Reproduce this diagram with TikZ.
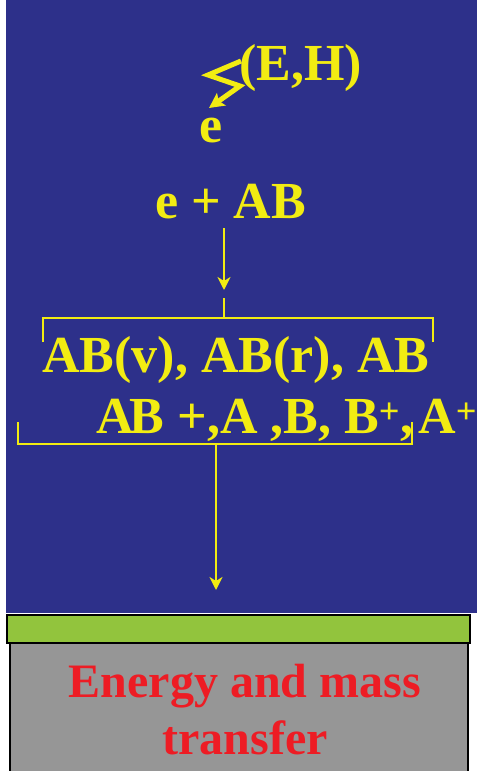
\documentclass[tikz,border=0pt]{standalone}
\usepackage{fontspec}
\setmainfont{Liberation Serif}
\usetikzlibrary{arrows.meta}
\definecolor{bg}{RGB}{45,48,138}
\definecolor{ylw}{RGB}{242,236,18}
\definecolor{grn}{RGB}{146,196,61}
\definecolor{gry}{RGB}{150,150,150}
\definecolor{rd}{RGB}{237,28,36}
\begin{document}
\begin{tikzpicture}[x=1pt,y=-1pt,
  txt/.style={font=\fontsize{52}{60}\selectfont\bfseries, text=ylw, inner sep=0pt, anchor=base west},
  conn/.style={draw=ylw, line width=2.2pt},
  arr/.style={conn, -{Stealth[length=13pt,width=13pt,inset=4pt]}},
  brk/.style={draw=ylw, line width=2pt}]
\useasboundingbox (0,0) rectangle (477,771);
% backgrounds
\fill[bg] (6,0) rectangle (477,613);
\filldraw[fill=gry, draw=black, line width=1.5pt] (10,643) rectangle (468,790);
\filldraw[fill=grn, draw=black, line width=1.5pt] (7,615) rectangle (470,643);
% texts
\node[txt] (eh) at (239,80) {(E,H)};
\node[txt] (e) at (199,142) {e};
\node[txt] (eab) at (155,218) {e + AB};
\node[txt] (l1) at (42,372) {AB(v), AB(r), AB};
\node[txt] (l2) at (96,433) {A\kern-4pt B +,A ,B, B\textsuperscript{+},};
\node[txt] (ap) at (418,433) {A\textsuperscript{+}};
\node[font=\fontsize{48}{57}\selectfont\bfseries, text=rd, align=center, inner sep=0pt] (et) at (245,710) {Energy and mass\\transfer};
% zigzag arrow
\coordinate (z0) at (241,61);
\coordinate (z1) at (208,75);
\coordinate (z2) at (240,86);
\coordinate (z3) at (209,108);
\draw[draw=ylw, line width=5pt, line join=miter, -{Stealth[length=15pt,width=15pt,inset=3pt]}] (z0) -- (z1) -- (z2) -- (z3);
% first arrow
\coordinate (a0) at (224,228);
\coordinate (a1) at (224,290);
\draw[arr] (a0) -- (a1);
\coordinate (t0) at (224,298);
\coordinate (t1) at (224,318);
\draw[conn] (t0) -- (t1);
% top bracket
\coordinate (bl) at (43,342);
\coordinate (br) at (433,342);
\draw[brk] (bl) -- (43,318) -- (433,318) -- (br);
% bottom bracket
\coordinate (cl) at (18,422);
\coordinate (cr) at (412,422);
\draw[brk] (cl) -- (18,444) -- (412,444) -- (cr);
% bottom arrow
\coordinate (d0) at (216,444);
\coordinate (d1) at (216,590);
\draw[arr] (d0) -- (d1);
\end{tikzpicture}
\end{document}
